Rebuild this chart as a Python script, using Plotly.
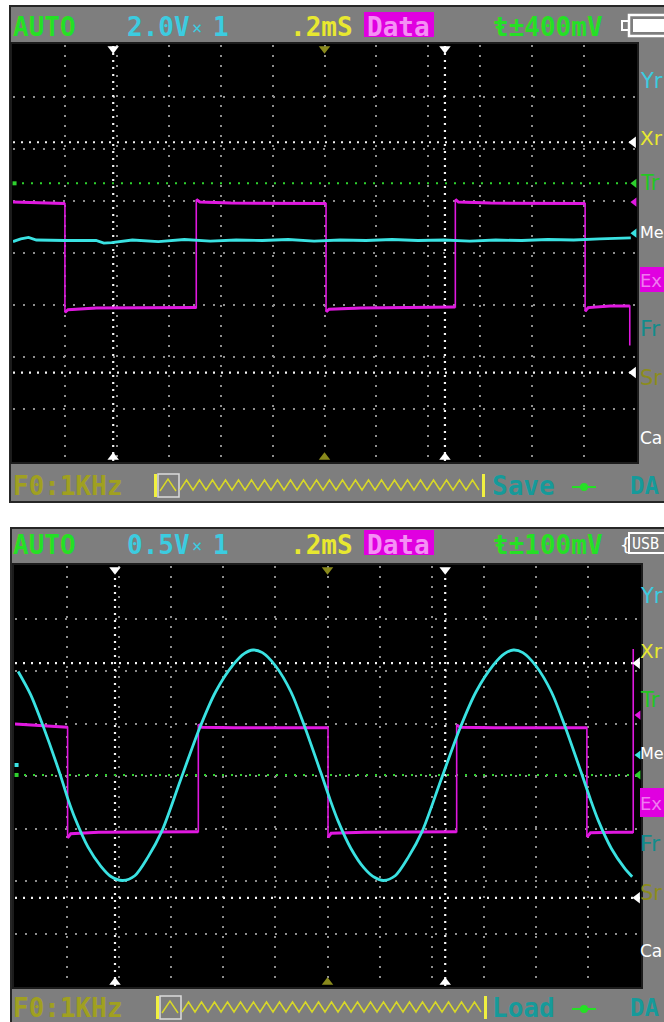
import plotly.graph_objects as go

W, H = 664, 1022
MONO = "DejaVu Sans Mono"
SANS = "DejaVu Sans"

# ---------------- data (screen divisions: x 0..12 div, y -4..+4 div) ----------------
# Panel 1 : 2.0V/div, .2mS/div
p1_sq_x = [0.00, 0.98, 1.00, 1.00, 1.06, 1.60, 3.50, 3.53, 3.53, 3.60, 4.20, 6.00, 6.03, 6.03, 6.09,
           6.70, 8.49, 8.52, 8.52, 8.58, 9.20, 10.99, 11.02, 11.02, 11.08, 11.50, 11.86, 11.88, 11.88]
p1_sq_y = [0.98, 0.96, 0.95, -1.14, -1.09, -1.06, -1.05, -1.05, 1.03, 0.98, 0.96, 0.95, 0.95, -1.13, -1.08,
           -1.06, -1.04, -1.04, 1.03, 0.98, 0.96, 0.95, 0.95, -1.12, -1.05, -1.02, -1.02, -1.02, -1.78]
p1_dc_x = [0, 0.15, 0.3, 0.45, 1.0, 1.6, 1.75, 1.9, 2.3, 2.8, 3.3, 3.8, 4.3, 4.8, 5.3, 5.8, 6.3, 6.8,
           7.3, 7.8, 8.3, 8.8, 9.3, 9.8, 10.3, 10.8, 11.3, 11.9]
p1_dc_y = [0.22, 0.27, 0.30, 0.25, 0.24, 0.24, 0.19, 0.20, 0.25, 0.22, 0.26, 0.23, 0.25, 0.24, 0.26,
           0.23, 0.25, 0.24, 0.26, 0.24, 0.25, 0.23, 0.25, 0.24, 0.26, 0.25, 0.27, 0.29]
p1_trig = 1.34
p1_cursor_t = [1.93, 8.32]
p1_cursor_v = [2.13, -2.30]
p1_posB, p1_posA = 0.98, 0.38

# Panel 2 : 0.5V/div, .2mS/div
p2_sq_x = [0.00, 0.98, 1.01, 1.01, 1.07, 1.60, 3.49, 3.52, 3.52, 3.59, 4.20, 5.98, 6.01, 6.01, 6.07,
           6.70, 8.45, 8.48, 8.48, 8.55, 9.20, 10.95, 10.98, 10.98, 11.05, 11.50, 11.85, 11.87, 11.87]
p2_sq_y = [0.99, 0.93, 0.93, -1.18, -1.10, -1.07, -1.06, -1.06, 0.98, 0.93, 0.92, 0.92, 0.92, -1.17, -1.09,
           -1.07, -1.06, -1.06, 0.97, 0.93, 0.92, 0.92, 0.92, -1.16, -1.08, -1.07, -1.07, -1.07, 2.42]
p2_sin_x = [0.06, 0.30, 0.54, 0.86, 1.02, 1.15, 1.40, 1.65, 1.85, 2.07, 2.30, 2.55, 2.82, 3.17, 3.54,
            3.85, 4.19, 4.40, 4.57, 4.75, 5.00, 5.30, 5.55, 5.87, 6.05, 6.20, 6.45, 6.70, 6.90, 7.08,
            7.30, 7.55, 7.82, 8.17, 8.54, 8.85, 9.19, 9.40, 9.57, 9.75, 10.00, 10.30, 10.55, 10.87,
            11.05, 11.20, 11.45, 11.70, 11.85]
p2_sin_y = [1.99, 1.55, 0.95, 0.05, -0.45, -0.80, -1.35, -1.72, -1.92, -1.99, -1.90, -1.55, -1.05, -0.10,
            0.90, 1.60, 2.12, 2.33, 2.40, 2.35, 2.10, 1.60, 0.97, 0.07, -0.45, -0.85, -1.38, -1.75,
            -1.93, -1.99, -1.90, -1.55, -1.05, -0.10, 0.90, 1.60, 2.12, 2.33, 2.40, 2.35, 2.10, 1.60,
            0.97, 0.07, -0.45, -0.85, -1.38, -1.75, -1.92]
p2_trig = 0.02
p2_cursor_t = [1.92, 8.26]
p2_cursor_v = [2.15, -2.32]
p2_posB, p2_posA = 1.16, 0.40
p2_zeroA = 0.21

# text labels
top1 = ["AUTO", "2.0V", "×", "1", ".2mS", "Data", "ŧ±400mV"]
top2 = ["AUTO", "0.5V", "×", "1", ".2mS", "Data", "ŧ±100mV"]
side_labels = ["Yr", "Xr", "Tr", "Me", "Ex", "Fr", "Sr", "Ca"]
bottom1 = ["F0:1KHz", "Save", "DA"]
bottom2 = ["F0:1KHz", "Load", "DA"]

# ---------------- colours ----------------
GRAY = "#7e7e7e"
BORDER = "#262626"
GREEN = "#25e025"
CYAN_T = "#3ccce0"
CYAN = "#3ae2e2"
YELLOW = "#e8e830"
MAG = "#e018e0"
OLIVE = "#a0a020"
TEAL = "#169a9a"
GRID = "#8e8e8e"


def X(px):
    return px / W


def Y(py):
    return 1 - py / H


fig = go.Figure()
shapes = []
annos = []


def txt(s, x, y, color, size=26, family=MONO, bold=True):
    annos.append(dict(text=f"<b>{s}</b>" if bold else s, x=X(x), y=Y(y), xref="paper", yref="paper",
                      xanchor="left", yanchor="middle", showarrow=False, borderpad=0, borderwidth=0,
                      font=dict(family=family, size=size, color=color)))


def rect(x0, y0, x1, y1, fill=None, line=None, lw=1):
    shapes.append(dict(type="rect", xref="paper", yref="paper", x0=X(x0), x1=X(x1), y0=Y(y1), y1=Y(y0),
                       fillcolor=fill if fill else "rgba(0,0,0,0)",
                       line=dict(color=line if line else "rgba(0,0,0,0)", width=lw), layer="below"))


def zigzag(x0, x1, ytop, ybot, period):
    d = f"M{X(x0)},{Y(ybot)}"
    x = x0
    up = True
    while x + period / 2 <= x1:
        x += period / 2
        d += f" L{X(x)},{Y(ytop if up else ybot)}"
        up = not up
    shapes.append(dict(type="path", path=d, xref="paper", yref="paper",
                       line=dict(color="#d8d828", width=1.5), layer="above"))


def level_parts(xs, ys):
    # break the trace at vertical edges so flat levels can be drawn thicker
    ox, oy = [xs[0]], [ys[0]]
    for i in range(1, len(xs)):
        if xs[i] == xs[i - 1]:
            ox.append(None)
            oy.append(None)
        ox.append(xs[i])
        oy.append(ys[i])
    return ox, oy


panels = [
    dict(xa="x", ya="y", ax="xaxis", ay="yaxis", px=(13, 636), py=(45, 461), frame=(10, 6, 672, 502),
         ty=27, by=486, dy=0, sq=(p1_sq_x, p1_sq_y), wave=(p1_dc_x, p1_dc_y, "linear"), trig=p1_trig,
         ct=p1_cursor_t, cv=p1_cursor_v, posB=p1_posB, posA=p1_posA, zeroA=None, top=top1,
         bottom=bottom1, side_y=[80, 137, 182, 232, 279, 327, 377, 437], ex=(267, 292)),
    dict(xa="x2", ya="y2", ax="xaxis2", ay="yaxis2", px=(15, 640), py=(566, 986), frame=(11, 528, 672, 1040),
         ty=545, by=1008, dy=1, sq=(p2_sq_x, p2_sq_y), wave=(p2_sin_x, p2_sin_y, "spline"), trig=p2_trig,
         ct=p2_cursor_t, cv=p2_cursor_v, posB=p2_posB, posA=p2_posA, zeroA=p2_zeroA, top=top2,
         bottom=bottom2, side_y=[595, 650, 699, 752, 802, 842, 892, 950], ex=(788, 817)),
]

side_cols = [CYAN_T, YELLOW, "#22c822", "white", "#f07af0", "#128c8c", "#8c8c1c", "white"]
side_sizes = [21, 20, 21, 16, 18, 22, 21, 17]

layout_axes = {}
for p in panels:
    xa, ya = p["xa"], p["ya"]
    fx0, fy0, fx1, fy1 = p["frame"]
    # instrument frame
    rect(fx0, fy0, fx1, fy1, fill=GRAY, line=BORDER, lw=2)
    # black screen border
    rect(p["px"][0] - 2, p["py"][0] - 2, p["px"][1] + 2, p["py"][1] + 2, fill="black", line="#1c1c1c", lw=2)

    layout_axes[p["ax"]] = dict(domain=[X(p["px"][0]), X(p["px"][1])], range=[0, 12],
                                tickvals=list(range(1, 12)), showticklabels=False, ticks="",
                                showgrid=True, gridcolor=GRID, gridwidth=2, griddash="2px,8px",
                                zeroline=False, showline=False, fixedrange=True, anchor=ya)
    layout_axes[p["ay"]] = dict(domain=[Y(p["py"][1]), Y(p["py"][0])], range=[-4, 4],
                                tickvals=list(range(-3, 4)), showticklabels=False, ticks="",
                                showgrid=True, gridcolor=GRID, gridwidth=2, griddash="2px,8px",
                                zeroline=False, showline=False, fixedrange=True, anchor=xa)

    kw = dict(xaxis=xa, yaxis=ya, showlegend=False, hoverinfo="skip")
    # cursors
    for c in p["ct"]:
        fig.add_trace(go.Scatter(x=[c, c], y=[-4, 4], mode="lines",
                                 line=dict(color="#f4f4f4", width=2.2, dash="2px,5px"), **kw))
    for c in p["cv"]:
        fig.add_trace(go.Scatter(x=[0, 12], y=[c, c], mode="lines",
                                 line=dict(color="#f4f4f4", width=2.2, dash="2px,6px"), **kw))
    # trigger level
    fig.add_trace(go.Scatter(x=[0, 12], y=[p["trig"], p["trig"]], mode="lines",
                             line=dict(color="#2ed22e", width=2, dash="2px,7px"), **kw))
    # CH B square: thin edges + thicker levels
    fig.add_trace(go.Scatter(x=p["sq"][0], y=p["sq"][1], mode="lines",
                             line=dict(color=MAG, width=1.6), **kw))
    lx, ly = level_parts(*p["sq"])
    fig.add_trace(go.Scatter(x=lx, y=ly, mode="lines", connectgaps=False,
                             line=dict(color=MAG, width=3), **kw))
    # CH A
    fig.add_trace(go.Scatter(x=p["wave"][0], y=p["wave"][1], mode="lines",
                             line=dict(color=CYAN, width=2.8, shape=p["wave"][2], smoothing=0.8), **kw))

    # edge markers
    mk = dict(mode="markers", cliponaxis=False, **kw)
    fig.add_trace(go.Scatter(x=p["ct"], y=[3.93, 3.93],
                             marker=dict(symbol="triangle-down", size=10, color="white"), **mk))
    fig.add_trace(go.Scatter(x=p["ct"], y=[-3.93, -3.93],
                             marker=dict(symbol="triangle-up", size=10, color="white"), **mk))
    fig.add_trace(go.Scatter(x=[6, 6], y=[3.93, -3.93],
                             marker=dict(symbol=["triangle-down", "triangle-up"], size=10, color="#8a8a1c"), **mk))
    fig.add_trace(go.Scatter(x=[11.95, 11.95], y=p["cv"],
                             marker=dict(symbol="triangle-left", size=10, color="white"), **mk))
    fig.add_trace(go.Scatter(x=[11.97, 11.97, 11.97], y=[p["trig"], p["posB"], p["posA"]],
                             marker=dict(symbol="triangle-left", size=8, color=["#2ed22e", MAG, CYAN]), **mk))
    fig.add_trace(go.Scatter(x=[0.03], y=[p["trig"]],
                             marker=dict(symbol="square", size=4, color="#2ed22e"), **mk))
    if p["zeroA"] is not None:
        fig.add_trace(go.Scatter(x=[0.03], y=[p["zeroA"]],
                                 marker=dict(symbol="square", size=4, color=CYAN), **mk))

    # ---- top bar ----
    ty = p["ty"]
    t = p["top"]
    txt(t[0], 13, ty, GREEN)
    txt(t[1], 127, ty, CYAN_T)
    txt(t[2], 192, ty + 1, CYAN_T, size=17, bold=False)
    txt(t[3], 213, ty, CYAN_T)
    txt(t[4], 290, ty, YELLOW)
    rect(364, ty - 15, 434, ty + 10, fill="#e000e0")
    txt(t[5], 367, ty, "#f590f5")
    txt(t[6], 493, ty, GREEN)
    if p["dy"] == 0:
        # battery icon
        rect(629, ty - 12, 672, ty + 9, line="white", lw=2.5)
        rect(633, ty - 8, 672, ty + 5, fill="white")
        rect(622, ty - 6, 629, ty + 3, line="white", lw=2)
    else:
        rect(629, ty - 12, 672, ty + 8, line="white", lw=2)
        txt("USB", 632, ty - 1, "white", size=15, bold=False)
        txt("{", 620, ty - 1, "white", size=18, bold=False)

    # ---- right-hand column ----
    sy = p["side_y"]
    rect(640, p["ex"][0], 672, p["ex"][1], fill="#e000e0")
    for s, yy, col, sz in zip(side_labels, sy, side_cols, side_sizes):
        txt(s, 640, yy + 1, col, size=sz, family=SANS, bold=False)

    # ---- bottom bar ----
    by = p["by"]
    b = p["bottom"]
    x_off = 0 if p["dy"] == 0 else 2
    txt(b[0], 13, by, OLIVE)
    rect(154 + x_off, by - 12, 157 + x_off, by + 11, fill="#f0f040")
    rect(158 + x_off, by - 12, 179 + x_off, by + 11, line="#dcdcdc", lw=1.5)
    zigzag(160 + x_off, 178 + x_off, by - 7, by + 5, 16)
    zigzag(180 + x_off, 481 + x_off, by - 6, by + 4, 13)
    rect(482 + x_off, by - 12, 485 + x_off, by + 11, fill="#f0f040")
    txt(b[1], 492, by, TEAL)
    shapes.append(dict(type="line", xref="paper", yref="paper", x0=X(572), x1=X(596), y0=Y(by + 1),
                       y1=Y(by + 1), line=dict(color=GREEN, width=2)))
    shapes.append(dict(type="circle", xref="paper", yref="paper", x0=X(580), x1=X(588), y0=Y(by + 5),
                       y1=Y(by - 3), fillcolor=GREEN, line=dict(color=GREEN, width=0)))
    txt(b[2], 630, by, TEAL, size=24)

fig.update_layout(width=W, height=H, margin=dict(l=0, r=0, t=0, b=0), autosize=False,
                  paper_bgcolor="white", plot_bgcolor="black", showlegend=False,
                  shapes=shapes, annotations=annos, **layout_axes)

fig.write_html("out.html", config={"displayModeBar": False, "staticPlot": True},
               post_script="document.body.style.margin='0';document.body.style.overflow='hidden';")
